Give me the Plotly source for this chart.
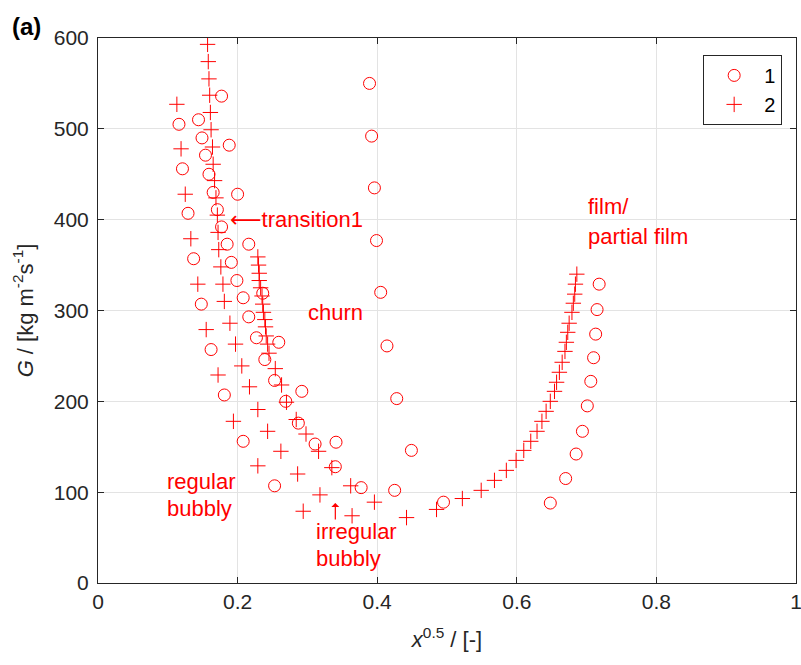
import plotly.graph_objects as go

# Series 1 (open circles): x^0.5 and mass flux G
x_s1 = [0.177, 0.116, 0.144, 0.149, 0.188, 0.154, 0.121, 0.159, 0.165, 0.200,
        0.129, 0.171, 0.177, 0.185, 0.216, 0.137, 0.191, 0.199, 0.208, 0.148,
        0.236, 0.216, 0.227, 0.259, 0.162, 0.239, 0.253, 0.181, 0.269, 0.292,
        0.287, 0.311, 0.341, 0.340, 0.208, 0.253, 0.377,
        0.389, 0.392, 0.396, 0.399, 0.405, 0.414, 0.428, 0.449, 0.425, 0.495,
        0.648, 0.670, 0.685, 0.694, 0.701, 0.706, 0.710, 0.713, 0.715, 0.718]
g_s1 = [536, 505, 510, 490, 482, 471, 456, 450, 430, 428,
        407, 411, 392, 373, 373, 357, 353, 333, 314, 307,
        319, 293, 270, 265, 257, 246, 223, 207, 200, 211,
        176, 153, 155, 128, 156, 107, 105,
        550, 492, 435, 377, 320, 261, 203, 146, 102, 89,
        88, 115, 142, 167, 195, 222, 248, 274, 301, 329]

# Series 2 (plus markers)
x_s2 = [0.157, 0.158, 0.159, 0.160, 0.161, 0.162, 0.164, 0.165, 0.167, 0.169,
        0.171, 0.172, 0.173, 0.176, 0.179, 0.181, 0.189, 0.197, 0.206, 0.217,
        0.229, 0.243, 0.262, 0.286, 0.318, 0.364,
        0.113, 0.119, 0.125, 0.133, 0.143, 0.155, 0.172, 0.194, 0.229, 0.294,
        0.229, 0.230, 0.231, 0.231, 0.233, 0.235, 0.236, 0.237, 0.239, 0.240,
        0.241, 0.243, 0.245, 0.254, 0.263, 0.270, 0.284, 0.298, 0.316, 0.335,
        0.362, 0.396, 0.442, 0.485, 0.522, 0.549, 0.568, 0.585, 0.599, 0.610,
        0.620, 0.629, 0.636, 0.642, 0.648, 0.654, 0.657, 0.661, 0.665, 0.669,
        0.671, 0.673, 0.675, 0.679, 0.681, 0.683, 0.684, 0.686]
g_s2 = [593, 574, 555, 537, 518, 499, 480, 461, 443, 424,
        405, 386, 367, 348, 329, 310, 286, 263, 239, 216,
        191, 167, 145, 120, 97, 74,
        527, 478, 428, 379, 329, 279, 229, 178, 129, 79,
        359, 350, 341, 333, 325, 316, 307, 298, 290, 282,
        272, 263, 253, 236, 218, 199, 180, 164, 145, 127,
        107, 89, 72, 81, 93, 102, 113, 124, 135, 146,
        156, 167, 178, 189, 200, 211, 221, 232, 243, 255,
        265, 276, 286, 298, 308, 318, 329, 340]

x_ticks = [0, 0.2, 0.4, 0.6, 0.8, 1]
x_tick_text = ["0", "0.2", "0.4", "0.6", "0.8", "1"]
y_ticks = [0, 100, 200, 300, 400, 500, 600]

ARROW_SPAN = '<span style="font-family:DejaVu Sans">{}</span>'

# Regime labels: (text, x, G)
regime_labels = [
    (ARROW_SPAN.format("\u27f5") + "transition1", 0.187, 400),
    ("churn", 0.300, 298),
    ("regular", 0.0976, 112),
    ("bubbly", 0.0976, 81.5),
    ("irregular", 0.311, 57),
    ("bubbly", 0.311, 27.5),
    ("film/", 0.700, 414),
    ("partial film", 0.700, 382),
]
# Upward pointer above "irregular": tip position (x, G)
pointer_tip = (0.340, 88)

RED = "#ff0000"
INK = "#262626"
FONT = "Liberation Sans, Arial, sans-serif"

fig = go.Figure()
fig.add_trace(go.Scatter(
    x=x_s1, y=g_s1, mode="markers", name="1",
    marker=dict(symbol="circle-open", size=12, color=RED, line=dict(width=1, color=RED)),
))
fig.add_trace(go.Scatter(
    x=x_s2, y=g_s2, mode="markers", name="2",
    marker=dict(symbol="cross-thin-open", size=11, color=RED, line=dict(width=1, color=RED)),
))

for text, xv, yv in regime_labels:
    fig.add_annotation(
        x=xv, y=yv, xref="x", yref="y", text=text, showarrow=False,
        xanchor="left", yanchor="middle", borderpad=0,
        font=dict(family=FONT, size=22, color=RED),
    )

fig.add_annotation(
    x=pointer_tip[0], y=pointer_tip[1], xref="x", yref="y", text="",
    showarrow=True, ax=0, ay=18, arrowhead=1, arrowsize=1.1,
    arrowwidth=1.2, arrowcolor=RED, standoff=0,
)

fig.add_annotation(
    x=-0.126, y=1.022, xref="paper", yref="paper", text="<b>(a)</b>",
    showarrow=False, xanchor="left", yanchor="middle",
    font=dict(family=FONT, size=24, color="black"),
)

axis_common = dict(
    showline=True, linecolor=INK, linewidth=1, mirror="ticks",
    ticks="inside", ticklen=6, tickcolor=INK,
    showgrid=True, gridcolor="#e3e3e3", gridwidth=1,
    zeroline=False, ticklabeloverflow="allow", automargin=False,
    tickfont=dict(family=FONT, size=21, color=INK),
)

fig.update_xaxes(
    range=[0, 1], tickvals=x_ticks, ticktext=x_tick_text,
    title=dict(text="<i>x</i><sup>0.5</sup> / [-]", font=dict(family=FONT, size=22, color=INK), standoff=19),
    **axis_common,
)
fig.update_yaxes(
    range=[0, 600], tickvals=y_ticks, ticklabelstandoff=4,
    title=dict(text="<i>G</i> / [kg m<sup>-2</sup>s<sup>-1</sup>]", font=dict(family=FONT, size=22, color=INK), standoff=14),
    **axis_common,
)

fig.update_layout(
    width=801, height=665,
    margin=dict(l=98, r=5, t=38, b=82),
    paper_bgcolor="white", plot_bgcolor="white",
    showlegend=True,
    legend=dict(
        x=0.867, y=0.969, xanchor="left", yanchor="top",
        bordercolor=INK, borderwidth=1, bgcolor="white",
        font=dict(family=FONT, size=20, color="black"),
        itemwidth=50, tracegroupgap=0,
    ),
)

fig.write_html("out.html")
